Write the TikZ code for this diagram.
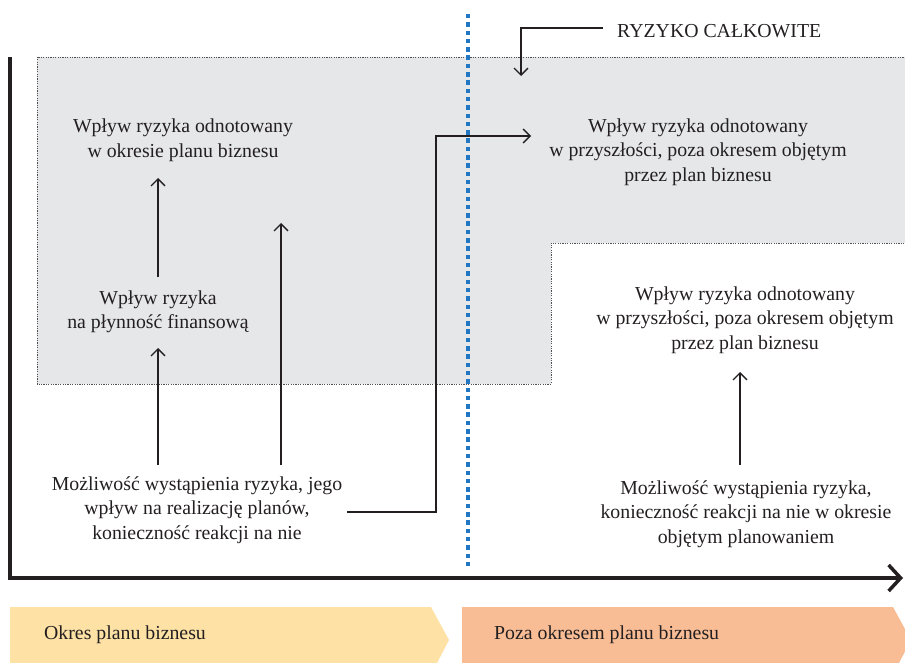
\documentclass[tikz,border=0pt]{standalone}
\usepackage{fontspec}
\setmainfont{Liberation Serif}
\usetikzlibrary{arrows.meta}
\definecolor{areagray}{RGB}{230,231,233}
\definecolor{bordergray}{RGB}{80,80,80}
\definecolor{lineblue}{RGB}{33,119,196}
\definecolor{bannerY}{RGB}{253,225,165}
\definecolor{bannerS}{RGB}{249,189,149}
\definecolor{ink}{RGB}{35,31,32}
\tikzset{
  txt/.style={font=\fontsize{19.8}{24.5}\selectfont, align=center, inner sep=0pt, text=ink},
  arr/.style={draw=ink, line width=1.3pt, -{Straight Barb[length=7pt,width=14pt]}},
  areaborder/.style={draw=bordergray, line width=0.8pt, dash pattern=on 1.2pt off 1.2pt},
  axisline/.style={draw=ink, line width=3.5pt, -{Straight Barb[length=12pt,width=26pt]}},
  bluedots/.style={draw=lineblue, line width=4.5pt, dash pattern=on 4.5pt off 3.8pt},
}
\begin{document}
\begin{tikzpicture}[x=1pt, y=-1pt]
\useasboundingbox (0,0) rectangle (905,663);
% shaded area
\fill[areagray] (37,57) -- (905,57) -- (905,243) -- (551,243) -- (551,384) -- (37,384) -- cycle;
\draw[areaborder] (906,57) -- (37,57) -- (37,384) -- (551,384) -- (551,243) -- (906,243);
% blue divider
\draw[bluedots] (468,14) -- (468,566);
% axes
\draw[axisline] (10,57) -- (10,578) -- (903,578);
% banners
\fill[bannerY] (10,607) -- (431,607) -- (449,640) -- (437,663) -- (10,663) -- cycle;
\fill[bannerS] (462,607) -- (893,607) -- (911,640) -- (899,663) -- (462,663) -- cycle;
\node[txt, anchor=west] (b1) at (44,635) {Okres planu biznesu};
\node[txt, anchor=west] (b2) at (494,635) {Poza okresem planu biznesu};
% texts
\node[txt] (T1) at (183,140) {Wpływ ryzyka odnotowany\\w okresie planu biznesu};
\node[txt] (T2) at (158,312) {Wpływ ryzyka\\na płynność finansową};
\node[txt] (T3) at (197,510) {Możliwość wystąpienia ryzyka, jego\\wpływ na realizację planów,\\konieczność reakcji na nie};
\node[txt] (T4) at (698,152) {Wpływ ryzyka odnotowany\\w przyszłości, poza okresem objętym\\przez plan biznesu};
\node[txt] (T5) at (745,320) {Wpływ ryzyka odnotowany\\w przyszłości, poza okresem objętym\\przez plan biznesu};
\node[txt] (T6) at (746,514) {Możliwość wystąpienia ryzyka,\\konieczność reakcji na nie w okresie\\objętym planowaniem};
\node[txt, anchor=west] (R) at (617,31) {RYZYKO CAŁKOWITE};
% connector coordinates
\coordinate (s1) at (158,465);
\coordinate (e1) at (158,348);
\coordinate (s2) at (158,277);
\coordinate (e2) at (158,178);
\coordinate (s3) at (281,465);
\coordinate (e3) at (281,223);
\coordinate (s4) at (347,512);
\coordinate (bend) at (436,136);
\coordinate (e4) at (531,136);
\coordinate (s6) at (740,465);
\coordinate (e6) at (740,372);
\coordinate (s5) at (603,28);
\coordinate (rz) at (521,76);
% connectors
\draw[arr] (s1) -- (e1);
\draw[arr] (s2) -- (e2);
\draw[arr] (s3) -- (e3);
\draw[arr] (s4) -| (bend) -- (e4);
\draw[arr] (s6) -- (e6);
\draw[arr] (s5) -| (rz);
\end{tikzpicture}
\end{document}
